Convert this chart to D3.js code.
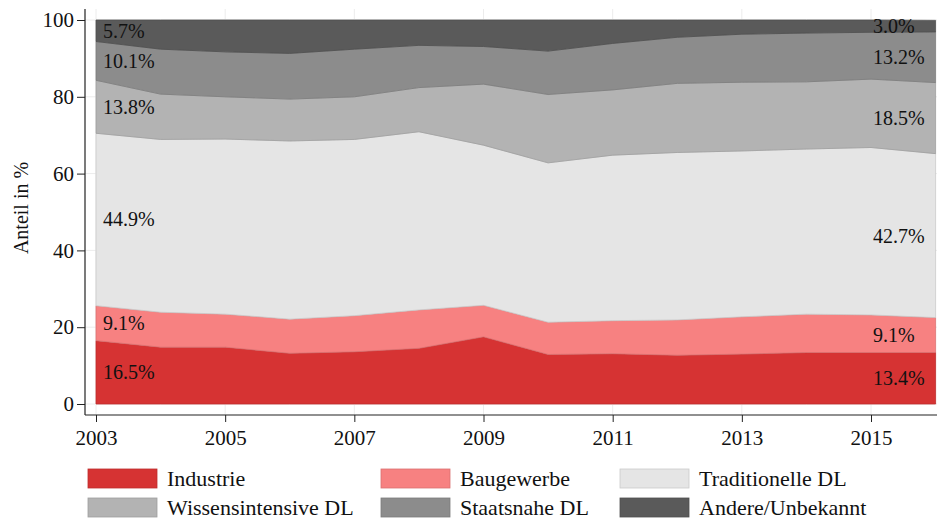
<!DOCTYPE html>
<html>
<head>
<meta charset="utf-8">
<script src="https://cdn.jsdelivr.net/npm/d3@7"></script>
<style>
  body { margin: 0; background: #fff; }
  svg { display: block; font-family: 'Liberation Serif', 'Times New Roman', serif; }
</style>
</head>
<body>
<div id="chart"></div>
<script>
// years on the x axis
let years = [2003, 2004, 2005, 2006, 2007, 2008, 2009, 2010, 2011, 2012, 2013, 2014, 2015, 2016]

// shares in % per sector
let industrie = [16.5, 14.8, 14.8, 13.2, 13.6, 14.5, 17.5, 12.9, 13.1, 12.7, 13.0, 13.4, 13.4, 13.4]
let baugewerbe = [9.1, 9.1, 8.6, 8.9, 9.4, 10.0, 8.2, 8.4, 8.6, 9.2, 9.7, 10.0, 9.8, 9.1]
let traditionelle = [44.9, 45.0, 45.6, 46.4, 45.9, 46.4, 41.7, 41.5, 43.1, 43.6, 43.2, 43.0, 43.6, 42.7]
let wissens = [13.8, 11.8, 11.0, 10.9, 11.1, 11.5, 15.9, 17.8, 17.0, 18.0, 17.9, 17.5, 17.8, 18.5]
let staatsnahe = [10.1, 11.7, 11.7, 11.9, 12.4, 11.0, 9.8, 11.3, 12.1, 12.0, 12.5, 12.7, 12.2, 13.2]
let andere = [5.6, 7.6, 8.3, 8.7, 7.6, 6.6, 6.9, 8.1, 6.1, 4.5, 3.7, 3.4, 3.2, 3.0]

let seriesNames = ['Industrie', 'Baugewerbe', 'Traditionelle DL', 'Wissensintensive DL', 'Staatsnahe DL', 'Andere/Unbekannt']
let seriesValues = [industrie, baugewerbe, traditionelle, wissens, staatsnahe, andere]
let colors = ['#d63333', '#f78181', '#e5e5e5', '#b3b3b3', '#8c8c8c', '#5a5a5a']

// labels shown at the start and end of each band
let startLabels = ['16.5%', '9.1%', '44.9%', '13.8%', '10.1%', '5.7%']
let endLabels = ['13.4%', '9.1%', '42.7%', '18.5%', '13.2%', '3.0%']

let yTicks = [0, 20, 40, 60, 80, 100]
let xTicks = [2003, 2005, 2007, 2009, 2011, 2013, 2015]

let width = 937
let height = 520

let svg = d3.select('#chart')
  .append('svg')
  .attr('width', width)
  .attr('height', height)

let x = d3.scaleLinear().domain([2003, 2016]).range([96, 935.6])
let y = d3.scaleLinear().domain([0, 100]).range([404, 20])

let axisX = 85
let axisY = 415
let plotTop = 9
let plotRight = 937

let colorScale = d3.scaleOrdinal().domain(seriesNames).range(colors)

// build rows for the stack
let rows = years.map((yr, i) => {
  let row = { year: yr }
  seriesNames.forEach((name, j) => { row[name] = seriesValues[j][i] })
  return row
})

let stacked = d3.stack().keys(seriesNames)(rows)

// gridlines
svg.append('g')
  .selectAll('line')
  .data(yTicks)
  .enter()
  .append('line')
  .attr('x1', axisX)
  .attr('x2', plotRight)
  .attr('y1', d => y(d))
  .attr('y2', d => y(d))
  .attr('stroke', '#ececec')
  .attr('stroke-width', 1)

svg.append('g')
  .selectAll('line')
  .data(xTicks)
  .enter()
  .append('line')
  .attr('x1', d => x(d))
  .attr('x2', d => x(d))
  .attr('y1', plotTop)
  .attr('y2', axisY)
  .attr('stroke', '#ececec')
  .attr('stroke-width', 1)

// areas
let area = d3.area()
  .x(d => x(d.data.year))
  .y0(d => y(d[0]))
  .y1(d => y(d[1]))

svg.append('g')
  .selectAll('path')
  .data(stacked)
  .enter()
  .append('path')
  .attr('d', area)
  .attr('fill', d => colorScale(d.key))
  .attr('stroke', d => d3.color(colorScale(d.key)).darker(0.35))
  .attr('stroke-width', 0.8)

// band labels
let first = 0
let last = years.length - 1

stacked.forEach((s, i) => {
  svg.append('text')
    .text(startLabels[i])
    .attr('x', x(years[first]) + 7)
    .attr('y', y((s[first][0] + s[first][1]) / 2))
    .attr('dominant-baseline', 'central')
    .attr('font-size', 20)
    .attr('fill', '#111')

  svg.append('text')
    .text(endLabels[i])
    .attr('x', x(2015) + 2)
    .attr('y', y((s[last][0] + s[last][1]) / 2))
    .attr('dominant-baseline', 'central')
    .attr('font-size', 20)
    .attr('fill', '#111')
})

// axes
let yAxis = svg.append('g')
  .attr('transform', `translate(${axisX},0)`)
  .call(d3.axisLeft(y).tickValues(yTicks).tickSize(8).tickPadding(3))
  .attr('font-family', null)
  .attr('font-size', 21)

yAxis.select('.domain').remove()
yAxis.selectAll('text').attr('fill', '#111')
yAxis.selectAll('line').attr('stroke', '#222')

let xAxis = svg.append('g')
  .attr('transform', `translate(0,${axisY})`)
  .call(d3.axisBottom(x).tickValues(xTicks).tickFormat(d3.format('d')).tickSize(7).tickPadding(8))
  .attr('font-family', null)
  .attr('font-size', 21)

xAxis.select('.domain').remove()
xAxis.selectAll('text').attr('fill', '#111')
xAxis.selectAll('line').attr('stroke', '#222')

svg.append('line')
  .attr('x1', axisX)
  .attr('x2', axisX)
  .attr('y1', plotTop)
  .attr('y2', axisY)
  .attr('stroke', '#222')
  .attr('stroke-width', 1.2)

svg.append('line')
  .attr('x1', axisX)
  .attr('x2', plotRight)
  .attr('y1', axisY)
  .attr('y2', axisY)
  .attr('stroke', '#222')
  .attr('stroke-width', 1.2)

// y title
svg.append('text')
  .text('Anteil in %')
  .attr('transform', 'translate(21,208) rotate(-90)')
  .attr('text-anchor', 'middle')
  .attr('dominant-baseline', 'central')
  .attr('font-size', 20)
  .attr('fill', '#111')

// legend
let legendCols = [88, 381, 620]
let legendRows = [469, 498]

let legend = svg.append('g')
  .selectAll('g')
  .data(seriesNames)
  .enter()
  .append('g')
  .attr('transform', (d, i) => `translate(${legendCols[i % 3]},${legendRows[Math.floor(i / 3)]})`)

legend.append('rect')
  .attr('width', 69)
  .attr('height', 19)
  .attr('fill', d => colorScale(d))
  .attr('stroke', d => d3.color(colorScale(d)).darker(0.35))
  .attr('stroke-width', 0.8)

legend.append('text')
  .text(d => d)
  .attr('x', 79)
  .attr('y', 17)
  .attr('font-size', 22)
  .attr('fill', '#111')
</script>
</body>
</html>
